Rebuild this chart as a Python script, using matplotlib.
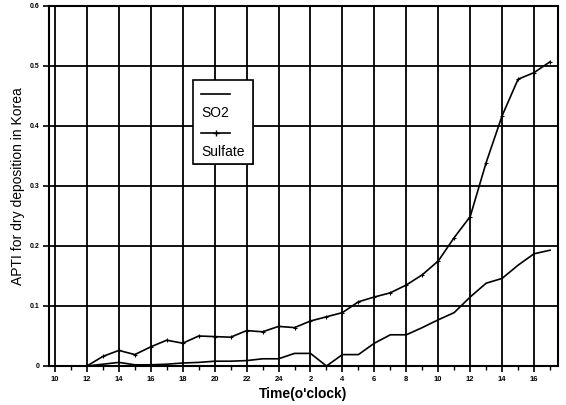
import matplotlib
matplotlib.use("Agg")
import matplotlib.pyplot as plt
from matplotlib.lines import Line2D
from matplotlib.patches import Rectangle

plt.rcParams['font.family'] = ['Liberation Sans', 'DejaVu Sans']

# Hours counted continuously from noon of day 1 (12) to 17 o'clock of day 2 (41)
hours = list(range(12, 42))

so2 = [0.0, 0.003, 0.006, 0.002, 0.002, 0.003, 0.005, 0.006, 0.008, 0.008,
       0.009, 0.012, 0.012, 0.021, 0.021, 0.0, 0.019, 0.019, 0.038, 0.052,
       0.052, 0.064, 0.077, 0.089, 0.115, 0.138, 0.146, 0.168, 0.187, 0.193]

sulfate = [0.0, 0.016, 0.026, 0.019, 0.032, 0.043, 0.038, 0.050, 0.049, 0.048,
           0.059, 0.057, 0.066, 0.064, 0.075, 0.082, 0.089, 0.107, 0.115, 0.122,
           0.135, 0.152, 0.175, 0.214, 0.249, 0.339, 0.417, 0.478, 0.489, 0.507]

tick_hours = list(range(10, 42, 2))
tick_labels = ['10', '12', '14', '16', '18', '20', '22', '24',
               '2', '4', '6', '8', '10', '12', '14', '16']
y_ticks = [0, 0.1, 0.2, 0.3, 0.4, 0.5, 0.6]
y_labels = ['0', '0.1', '0.2', '0.3', '0.4', '0.5', '0.6']

fig = plt.figure(figsize=(5.66, 4.05), dpi=100)
ax = fig.add_axes([49 / 566, 1 - 366 / 405, (558 - 49) / 566, (366 - 6) / 405])

ax.plot(hours, so2, color='black', lw=1.2, zorder=3)
ax.plot(hours, sulfate, color='black', lw=1.2, marker='+', ms=3, mew=0.8, zorder=3)

ax.set_xlim(9.625, 41.5)
ax.set_ylim(0, 0.6)
ax.set_xticks(tick_hours)
ax.set_xticklabels(tick_labels, fontsize=5.5, fontweight='bold')
ax.set_xticks(list(range(11, 42, 2)), minor=True)
ax.set_yticks(y_ticks)
ax.set_yticklabels(y_labels, fontsize=5, fontweight='bold')

ax.tick_params(axis='both', which='major', direction='out', length=4, width=1.2, pad=3)
ax.tick_params(axis='x', which='minor', direction='out', length=3, width=1.0)

ax.grid(True, which='major', color='black', lw=1.3)
ax.set_axisbelow(True)
for sp in ax.spines.values():
    sp.set_linewidth(1.5)

ax.set_xlabel("Time(o'clock)", fontsize=10, fontweight='bold', labelpad=3)
ax.set_ylabel("APTI for dry deposition in Korea", fontsize=10, labelpad=3)

# Legend: sample line above each label, in a boxed panel
bx0, by0, bx1, by1 = 193 / 566, 1 - 164 / 405, 253 / 566, 1 - 80 / 405
fig.patches.append(Rectangle((bx0 + 0.002, by0 - 0.003), bx1 - bx0, by1 - by0,
                             transform=fig.transFigure, facecolor='#777777',
                             edgecolor='none', zorder=4))
fig.patches.append(Rectangle((bx0, by0), bx1 - bx0, by1 - by0,
                             transform=fig.transFigure, facecolor='white',
                             edgecolor='black', lw=1.2, zorder=5))
lx0, lx1 = 201 / 566, 230 / 566
fig.lines.append(Line2D([lx0, lx1], [1 - 94 / 405] * 2, transform=fig.transFigure,
                        color='black', lw=1.2, zorder=6))
fig.lines.append(Line2D([lx0, lx1], [1 - 133 / 405] * 2, transform=fig.transFigure,
                        color='black', lw=1.2, zorder=6))
fig.lines.append(Line2D([(lx0 + lx1) / 2], [1 - 133 / 405], transform=fig.transFigure,
                        color='black', marker='+', ms=5, mew=1.0, zorder=6))
fig.text(lx0, 1 - 113 / 405, 'SO2', fontsize=10, va='center', ha='left', zorder=6)
fig.text(lx0, 1 - 152 / 405, 'Sulfate', fontsize=10, va='center', ha='left', zorder=6)

fig.savefig('out.png', dpi=100)
